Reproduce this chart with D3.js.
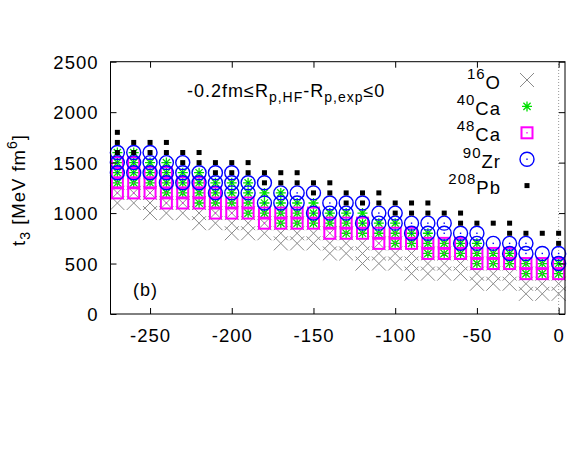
<!DOCTYPE html>
<html>
<head>
<meta charset="utf-8">
<script src="https://cdn.jsdelivr.net/npm/d3@7"></script>
<style>
  body { margin: 0; background: #fff; }
  svg { display: block; }
  text { font-family: "Liberation Sans", Arial, sans-serif; fill: #000; }
</style>
</head>
<body>
<svg id="chart" width="581" height="449"></svg>
<script>
// x positions of the columns
const xValues = [-270, -260, -250, -240, -230, -220, -210, -200, -190, -180,
                 -170, -160, -150, -140, -130, -120, -110, -100, -90, -80,
                 -70, -60, -50, -40, -30, -20, -10, 0];

// t3 values accepted at each column, one list per nucleus
const o16 = [
  [1300, 1200, 1100], [1300, 1200, 1100], [1200, 1100, 1000], [1200, 1100, 1000],
  [1200, 1100, 1000], [1100, 1000, 900], [1100, 1000, 900], [1000, 900, 800],
  [1000, 900, 800], [1000, 900, 800], [900, 800, 700], [900, 800, 700],
  [900, 800, 700], [800, 700, 600], [800, 700, 600], [700, 600, 500],
  [700, 600, 500], [700, 600, 500], [600, 500, 400], [600, 500, 400],
  [600, 500, 400], [600, 500, 400], [500, 400, 300], [500, 400, 300],
  [500, 400, 300], [400, 300, 200], [400, 300, 200], [400, 300, 200]
];
const ca40 = [
  [1600, 1500, 1400, 1300], [1600, 1500, 1400, 1300], [1500, 1400, 1300], [1500, 1400, 1300, 1200],
  [1400, 1300, 1200], [1400, 1300, 1200, 1100], [1300, 1200, 1100], [1300, 1200, 1100],
  [1300, 1200, 1100, 1000], [1200, 1100, 1000], [1200, 1100, 1000, 900], [1100, 1000, 900],
  [1100, 1000, 900], [1000, 900], [1000, 900, 800], [1000, 900, 800],
  [900, 800], [900, 800, 700], [800, 700], [800, 700, 600],
  [700, 600], [700, 600], [700, 600, 500], [600, 500],
  [600, 500], [500, 400], [500, 400], [500, 400]
];
const ca48 = [
  [1500, 1400, 1300, 1200], [1500, 1400, 1300, 1200], [1400, 1300, 1200], [1400, 1300, 1200, 1100],
  [1300, 1200, 1100], [1300, 1200, 1100], [1200, 1100, 1000], [1100, 1000],
  [1100, 1000], [1000, 900], [1000, 900], [1000, 900],
  [1000, 900], [900, 800], [900, 800], [900, 800],
  [800, 700], [800, 700], [800, 700], [700, 600],
  [700, 600], [700, 600], [600, 500], [600, 500],
  [600, 500], [500, 400], [500, 400], [500, 400]
];
const zr90 = [
  [1600, 1500, 1400], [1600, 1500, 1400], [1600, 1500, 1400], [1500, 1400, 1300],
  [1500, 1400, 1300], [1400, 1300], [1400, 1300, 1200], [1400, 1300, 1200],
  [1300, 1200], [1300, 1100], [1200, 1100], [1200, 1100],
  [1200, 1000], [1100, 1000], [1100, 1000], [1100, 900],
  [1000, 900], [1000, 900], [900, 800], [900, 800],
  [900, 800], [800, 700], [800, 700], [700],
  [700, 600], [700, 600], [600], [600, 500]
];
const pb208 = [
  [1800, 1700, 1600], [1700, 1600], [1700, 1600], [1700, 1600],
  [1600, 1500], [1600, 1500], [1500, 1400], [1500, 1400],
  [1500, 1400], [1400, 1300], [1400, 1300], [1400, 1300],
  [1300, 1200], [1300, 1200], [1200, 1100], [1200, 1100],
  [1200, 1100], [1100, 1000], [1100, 1000], [1100, 1000],
  [1000], [1000, 900], [900], [900],
  [900, 800], [800], [800], [800, 700]
];

const xTicks = [-250, -200, -150, -100, -50, 0];
const yTicks = [0, 500, 1000, 1500, 2000, 2500];

const legendItems = [
  { sup: '16', name: 'O', data: o16, type: 'cross' },
  { sup: '40', name: 'Ca', data: ca40, type: 'star' },
  { sup: '48', name: 'Ca', data: ca48, type: 'square' },
  { sup: '90', name: 'Zr', data: zr90, type: 'circle' },
  { sup: '208', name: 'Pb', data: pb208, type: 'dot' }
];

const svg = d3.select('#chart');
const plotLeft = 110.5, plotRight = 565, plotTop = 61.7, plotBottom = 314;

const x = d3.scaleLinear().domain([-274.2, 3.9]).range([plotLeft, plotRight]);
const y = d3.scaleLinear().domain([0, 2500]).range([plotBottom, plotTop]);

// plain integers with an ascii hyphen, like gnuplot
const fmt = d => String(d);

// draw one marker of the given type into group g
function drawMarker(g, type) {
  if (type === 'cross') {
    g.append('path').attr('d', 'M-7,-7L7,7M-7,7L7,-7')
      .attr('stroke', '#8a8a8a').attr('stroke-width', 1).attr('fill', 'none');
  } else if (type === 'star') {
    g.append('path').attr('d', 'M-5,0H5M0,-5V5M-3.6,-3.6L3.6,3.6M-3.6,3.6L3.6,-3.6')
      .attr('stroke', '#00e000').attr('stroke-width', 1.3).attr('fill', 'none');
  } else if (type === 'square') {
    g.append('rect').attr('x', -5.5).attr('y', -5.5).attr('width', 11).attr('height', 11)
      .attr('stroke', '#ff00ff').attr('stroke-width', 2).attr('fill', 'none');
    g.append('rect').attr('x', -0.7).attr('y', -0.7).attr('width', 1.4).attr('height', 1.4)
      .attr('fill', '#ff00ff');
  } else if (type === 'circle') {
    g.append('circle').attr('r', 7)
      .attr('stroke', '#0000ff').attr('stroke-width', 1.4).attr('fill', 'none');
    g.append('rect').attr('x', -0.7).attr('y', -0.7).attr('width', 1.4).attr('height', 1.4)
      .attr('fill', '#0000ff');
  } else {
    g.append('rect').attr('x', -2.5).attr('y', -2.5).attr('width', 5).attr('height', 5)
      .attr('fill', '#000');
  }
}

// dotted line at x = 0
svg.append('line')
  .attr('x1', x(0)).attr('x2', x(0)).attr('y1', y(0)).attr('y2', y(2500))
  .attr('stroke', '#999').attr('stroke-dasharray', '1,2');

// data points, in plotting order
legendItems.forEach(item => {
  const pts = xValues.flatMap((xv, i) => item.data[i].map(v => ({ x: xv, y: v })));
  const grp = svg.append('g');
  grp.selectAll('g').data(pts).enter().append('g')
    .attr('transform', d => `translate(${x(d.x)},${y(d.y)})`)
    .each(function () { drawMarker(d3.select(this), item.type); });
});

// axes with inward ticks, mirrored on top and right
const xAxis = svg.append('g').attr('transform', `translate(0,${plotBottom})`)
  .call(d3.axisBottom(x).tickValues(xTicks).tickFormat(fmt).tickSizeInner(-6).tickSizeOuter(0));
xAxis.selectAll('text').attr('y', 28).attr('dy', null)
  .attr('font-size', 18.5).attr('letter-spacing', 1).attr('font-family', '"Liberation Sans", Arial, sans-serif');

const yAxis = svg.append('g').attr('transform', `translate(${plotLeft},0)`)
  .call(d3.axisLeft(y).tickValues(yTicks).tickFormat(fmt).tickSizeInner(-6).tickSizeOuter(0).tickPadding(12));
yAxis.selectAll('text').attr('dy', '0.36em')
  .attr('font-size', 18.5).attr('letter-spacing', 1).attr('font-family', '"Liberation Sans", Arial, sans-serif');

svg.append('g').attr('transform', `translate(0,${plotTop})`)
  .call(d3.axisTop(x).tickValues(xTicks).tickSizeInner(-6).tickSizeOuter(0).tickFormat(''));
svg.append('g').attr('transform', `translate(${plotRight},0)`)
  .call(d3.axisRight(y).tickValues(yTicks).tickSizeInner(-6).tickSizeOuter(0).tickFormat(''));

svg.selectAll('.domain').remove();
svg.selectAll('.tick line').attr('stroke', '#000');

// frame
svg.append('rect')
  .attr('x', plotLeft).attr('y', plotTop).attr('width', plotRight - plotLeft).attr('height', plotBottom - plotTop)
  .attr('fill', 'none').attr('stroke', '#000').attr('stroke-width', 1);

// legend
const legend = svg.append('g');
legendItems.forEach((item, i) => {
  const cy = 80 + i * 26.4;
  const t = legend.append('text').attr('x', 501).attr('y', cy + 8.5)
    .attr('text-anchor', 'end').attr('font-size', 18.5).attr('letter-spacing', 1);
  t.append('tspan').attr('font-size', 15).attr('dy', -10).text(item.sup);
  t.append('tspan').attr('dy', 10).text(item.name);
  drawMarker(legend.append('g').attr('transform', `translate(527,${cy})`), item.type);
});

// constraint annotation
const note = svg.append('text').attr('x', 187).attr('y', 97)
  .attr('font-size', 18).attr('letter-spacing', 1);
note.append('tspan').text('-0.2fm≤R');
note.append('tspan').attr('font-size', 14).attr('dy', 5).text('p,HF');
note.append('tspan').attr('dy', -5).text('-R');
note.append('tspan').attr('font-size', 14).attr('dy', 5).text('p,exp');
note.append('tspan').attr('dy', -5).text('≤0');

// panel label
svg.append('text').attr('x', 133).attr('y', 296)
  .attr('font-size', 18).attr('letter-spacing', 1).text('(b)');

// y axis label
const ylab = svg.append('text')
  .attr('transform', 'translate(24.5,190) rotate(-90)')
  .attr('text-anchor', 'middle').attr('font-size', 18.5).attr('letter-spacing', 1);
ylab.append('tspan').text('t');
ylab.append('tspan').attr('font-size', 14).attr('dy', 5).text('3');
ylab.append('tspan').attr('dy', -5).text(' [MeV fm');
ylab.append('tspan').attr('font-size', 14).attr('dy', -8).text('6');
ylab.append('tspan').attr('dy', 8).text(']');
</script>
</body>
</html>
